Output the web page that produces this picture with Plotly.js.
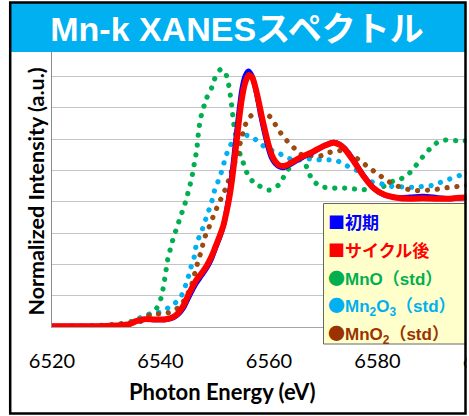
<!DOCTYPE html>
<html>
<head>
<meta charset="utf-8">
<script src="https://cdn.plot.ly/plotly-3.0.1.min.js"></script>
<style>
html,body{margin:0;padding:0;background:#fff;overflow:hidden;width:469px;height:416px}
#chart{width:540px;height:416px}
.scatterlayer .js-line{stroke-linecap:round!important;stroke-linejoin:round!important}
</style>
</head>
<body>
<div id="chart"></div>
<script>
// ---- data ----
const chartTitle = 'Mn-k XANESスペクトル';
const xTitle = 'Photon Energy (eV)';
const yTitle = 'Normalized Intensity (a.u.)';
const xTickValues = [6520, 6540, 6560, 6580, 6600];
const xTickLabels = ['6520', '6540', '6560', '6580', '6600'];
const legendMarks = ['■', '■', '●', '●', '●'];
const legendLabels = ['初期', 'サイクル後', 'MnO（std）', 'Mn<sub>2</sub>O<sub>3</sub>（std）', 'MnO<sub>2</sub>（std）'];

const energyMnO = [6520,6528,6532,6534.7,6536.2,6537.8,6539.3,6540.1,6540.5,6540.8,6541.1,6541.4,6541.9,6542.4,6543.0,6543.6,6544.2,6544.8,6545.25,6545.75,6546.05,6546.4,6546.7,6546.9,6547.1,6547.4,6547.9,6548.5,6549.3,6549.9,6551.0,6551.9,6552.5,6552.8,6553.05,6553.25,6553.5,6553.8,6554.2,6554.7,6555.3,6556.0,6557.0,6558.3,6560.0,6561.7,6562.9,6563.9,6564.8,6565.8,6566.6,6567.3,6568.0,6569.5,6571.6,6573.4,6575.2,6577.3,6579.2,6581.1,6582.3,6584.3,6585.9,6587.1,6588.3,6589.55,6590.9,6592.6,6594.6,6596.1,6600];
const intensityMnO = [0.004,0.008,0.018,0.036,0.058,0.079,0.121,0.185,0.249,0.313,0.381,0.445,0.509,0.573,0.633,0.696,0.756,0.820,0.884,0.948,1.011,1.075,1.139,1.208,1.272,1.335,1.399,1.463,1.516,1.580,1.644,1.629,1.559,1.497,1.437,1.372,1.300,1.240,1.176,1.100,1.045,0.980,0.930,0.900,0.875,0.905,0.970,1.026,1.072,1.090,1.050,0.990,0.940,0.898,0.888,0.888,0.884,0.877,0.885,0.898,0.925,0.946,0.984,1.033,1.086,1.135,1.176,1.195,1.190,1.190,1.180];

const energyMn2O3 = [6520,6528.8,6534.4,6537.75,6539.3,6540.8,6542.7,6543.8,6544.5,6545.1,6545.6,6546.2,6546.5,6547.1,6547.8,6548.4,6549.0,6549.6,6550.05,6550.8,6551.4,6551.9,6552.5,6553.4,6555.0,6556.8,6558.2,6559.9,6561.6,6563.5,6565.1,6566.95,6568.8,6570.6,6572.5,6574.3,6575.85,6577.4,6578.9,6580.8,6582.7,6584.65,6586.5,6588.45,6590.3,6592.0,6593.9,6595.6,6600];
const intensityMn2O3 = [0.002,0.008,0.027,0.079,0.089,0.110,0.153,0.196,0.253,0.317,0.381,0.445,0.509,0.573,0.633,0.696,0.756,0.820,0.884,0.946,1.010,1.073,1.133,1.190,1.226,1.218,1.176,1.136,1.114,1.079,1.066,1.075,1.069,1.069,1.063,1.031,1.008,0.964,0.928,0.914,0.898,0.895,0.893,0.898,0.906,0.930,0.952,0.973,1.000];

const energyMnO2 = [6520,6528.8,6536.2,6538.1,6540.2,6541.75,6543.6,6544.8,6545.75,6546.4,6547.0,6547.6,6548.0,6548.7,6549.4,6550.1,6550.9,6551.7,6552.4,6553.0,6553.65,6554.3,6554.65,6555.1,6555.7,6556.7,6558.3,6560.05,6561.1,6562.15,6563.4,6564.7,6566.0,6567.9,6569.7,6571.55,6573.4,6575.1,6576.8,6578.3,6579.85,6581.4,6582.9,6584.75,6586.6,6588.6,6590.4,6592.3,6594.1,6595.8,6600];
const intensityMnO2 = [0.002,0.008,0.034,0.079,0.085,0.093,0.132,0.196,0.270,0.353,0.430,0.494,0.558,0.617,0.678,0.739,0.801,0.860,0.920,0.986,1.048,1.105,1.169,1.229,1.297,1.350,1.363,1.348,1.297,1.240,1.186,1.141,1.101,1.095,1.095,1.120,1.127,1.101,1.063,1.021,0.983,0.944,0.912,0.887,0.873,0.873,0.877,0.888,0.895,0.903,0.910];

const energyInitial = [6520,6530,6534,6535.5,6537,6539,6541,6542.4,6543.4,6544.3,6545.0,6545.8,6546.6,6547.5,6548.5,6549.4,6550.1,6551.0,6551.6,6552.2,6552.8,6553.4,6554.0,6554.5,6555.0,6555.6,6556.2,6556.8,6557.4,6558.0,6558.6,6559.2,6559.8,6560.4,6561.1,6561.8,6562.5,6563.2,6564.0,6566.0,6568.2,6570.0,6571.9,6573.0,6574.0,6575.5,6577.4,6579.2,6581.1,6583.5,6586.0,6588.4,6590.9,6593.4,6596.0,6600];
const intensityInitial = [0.004,0.006,0.014,0.036,0.048,0.046,0.048,0.060,0.085,0.125,0.175,0.230,0.280,0.325,0.375,0.435,0.500,0.580,0.645,0.750,0.880,1.050,1.240,1.390,1.520,1.605,1.635,1.610,1.540,1.440,1.330,1.235,1.150,1.085,1.045,1.025,1.018,1.025,1.040,1.080,1.118,1.155,1.180,1.168,1.140,1.070,0.970,0.890,0.845,0.828,0.830,0.835,0.828,0.820,0.826,0.838];

const energyCycled = [6520,6530,6534,6535.5,6537,6539,6541,6542.4,6543.4,6544.3,6545.0,6545.8,6546.6,6547.5,6548.5,6549.4,6550.1,6551.0,6551.6,6552.2,6552.8,6553.4,6554.0,6554.5,6555.0,6555.6,6556.3,6556.9,6557.5,6558.1,6558.7,6559.3,6559.9,6560.5,6561.1,6561.8,6562.5,6563.2,6564.0,6566.0,6568.2,6570.0,6571.9,6573.0,6574.0,6575.5,6577.4,6579.2,6581.1,6583.5,6586.0,6588.4,6590.9,6593.4,6596.0,6600];
const intensityCycled = [0.005,0.007,0.016,0.038,0.050,0.048,0.050,0.065,0.095,0.140,0.195,0.250,0.300,0.340,0.390,0.450,0.510,0.590,0.650,0.740,0.850,1.000,1.180,1.330,1.460,1.560,1.610,1.595,1.530,1.440,1.340,1.250,1.165,1.100,1.060,1.035,1.028,1.033,1.048,1.087,1.122,1.155,1.178,1.165,1.135,1.065,0.965,0.890,0.848,0.826,0.820,0.823,0.820,0.820,0.828,0.840];

const colorInitial = '#0000FF', colorCycled = '#FF0000', colorMnO = '#00B050', colorMn2O3 = '#00B0F0', colorMnO2 = '#9C4A12';
const legendColors = [colorInitial, colorCycled, colorMnO, colorMn2O3, '#993300'];

// ---- geometry helpers (pixel -> paper) ----
const W = 540, H = 416, ML = 52, MR = 54, MT = 52, MB = 89;
const PW = W - ML - MR, PH = H - MT - MB;
const px = x => (x - ML) / PW;
const py = y => (H - MB - y) / PH;

const dotLine = c => ({color: c, width: 5.2, dash: '0.1px,9.8px', shape: 'spline', smoothing: 0.6});

const traces = [
  {x: energyMnO, y: intensityMnO, mode: 'lines', line: dotLine(colorMnO), hoverinfo: 'skip'},
  {x: energyMn2O3, y: intensityMn2O3, mode: 'lines', line: dotLine(colorMn2O3), hoverinfo: 'skip'},
  {x: energyMnO2, y: intensityMnO2, mode: 'lines', line: dotLine(colorMnO2), hoverinfo: 'skip'},
  {x: energyInitial, y: intensityInitial, mode: 'lines', line: {color: colorInitial, width: 5, shape: 'spline', smoothing: 0.8}, hoverinfo: 'skip'},
  {x: energyCycled, y: intensityCycled, mode: 'lines', line: {color: colorCycled, width: 6, shape: 'spline', smoothing: 0.8}, hoverinfo: 'skip'}
];

const legendRows = [221, 249, 277, 305, 333];
const legendAnn = legendLabels.map((t, i) => ({
  text: '<b><span style="font-family:Noto Sans CJK JP">' + legendMarks[i] + '</span>' + t + '</b>',
  xref: 'paper', yref: 'paper', x: px(326), y: py(legendRows[i]),
  xanchor: 'left', yanchor: 'middle', showarrow: false,
  font: {family: '"Liberation Sans", "Noto Sans CJK JP", sans-serif', size: 17, color: legendColors[i]}
}));

const layout = {
  width: W, height: H,
  margin: {l: ML, r: MR, t: MT, b: MB, pad: 0},
  paper_bgcolor: '#ffffff', plot_bgcolor: '#ffffff',
  showlegend: false,
  title: {
    text: '<b>' + chartTitle + '</b>', xref: 'container', yref: 'container',
    x: 237 / W, y: 1 - 29 / H, xanchor: 'center', yanchor: 'middle',
    font: {family: '"Liberation Sans", "Noto Sans CJK JP", sans-serif', size: 34, color: '#ffffff'}
  },
  xaxis: {
    range: [6520, 6600], tickvals: xTickValues, ticktext: xTickLabels,
    showgrid: false, zeroline: false, ticks: '', showline: true, linecolor: '#A6A6A6', linewidth: 1,
    tickfont: {family: 'Lato, sans-serif', size: 20, color: '#000000'}, ticklabelstandoff: 16
  },
  yaxis: {
    range: [0, (H - MB - MT) / 156.5], dtick: 0.2, tick0: 0,
    showgrid: true, gridcolor: '#C4C4C4', gridwidth: 1, zeroline: false,
    showticklabels: false, ticks: '', showline: true, linecolor: '#8C8C8C', linewidth: 1
  },
  shapes: [
    {type: 'rect', xref: 'paper', yref: 'paper', x0: px(11), x1: px(465), y0: py(52), y1: py(3), fillcolor: '#00B0F0', line: {width: 0}, layer: 'above'},
    {type: 'rect', xref: 'paper', yref: 'paper', x0: px(323.5), x1: px(472), y0: py(344), y1: py(203.5), fillcolor: '#FFFFCC', line: {color: '#666666', width: 1}, layer: 'above'},
    {type: 'rect', xref: 'paper', yref: 'paper', x0: px(466.5), x1: px(560), y0: py(430), y1: py(-10), fillcolor: '#ffffff', line: {width: 0}, layer: 'above'},
    {type: 'rect', xref: 'paper', yref: 'paper', x0: px(10.2), x1: px(465.5), y0: py(413.5), y1: py(2.5), fillcolor: 'rgba(0,0,0,0)', line: {color: '#000000', width: 2.5}, layer: 'above'}
  ],
  annotations: [
    {text: '<b>' + xTitle + '</b>', xref: 'paper', yref: 'paper', x: px(222), y: py(391), xanchor: 'center', yanchor: 'middle', showarrow: false,
     font: {family: 'Lato, sans-serif', size: 22, color: '#000000'}},
    {text: '<b>' + yTitle + '</b>', xref: 'paper', yref: 'paper', x: px(35), y: py(191.5), xanchor: 'center', yanchor: 'middle', showarrow: false, textangle: -90,
     font: {family: 'Lato, sans-serif', size: 21.5, color: '#000000'}}
  ].concat(legendAnn)
};

Plotly.newPlot('chart', traces, layout, {staticPlot: true, displayModeBar: false});
</script>
</body>
</html>
